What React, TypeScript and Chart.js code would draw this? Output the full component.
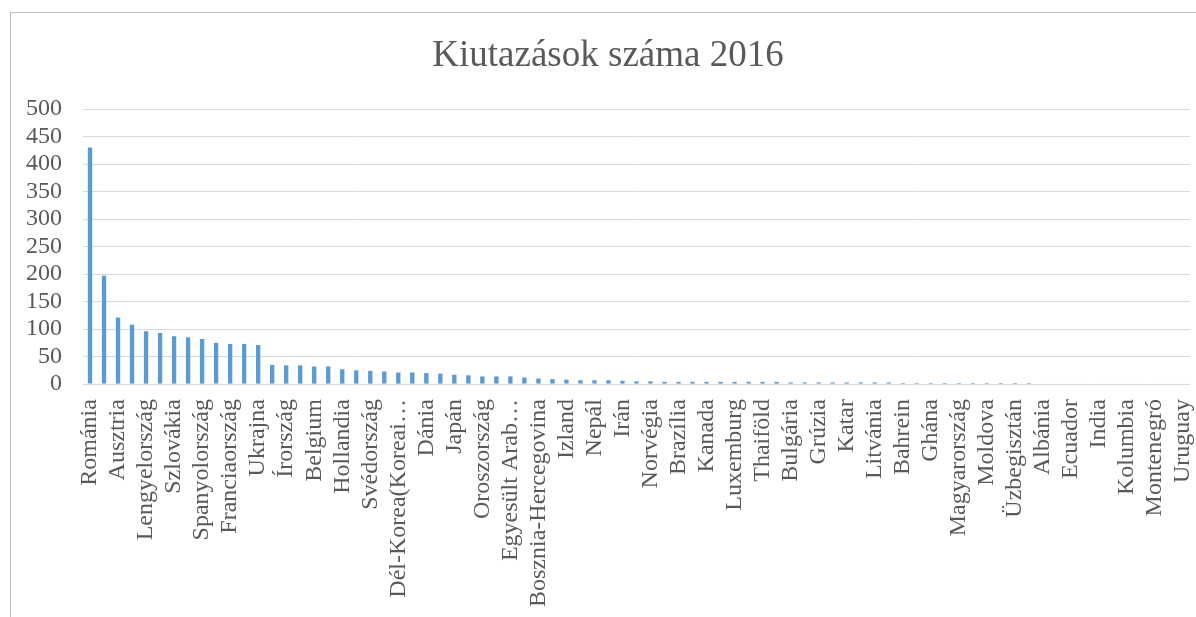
import React, { useEffect, useRef } from "react";
import { Chart, registerables } from "chart.js";

Chart.register(...registerables);

// Categories: only every other label is readable in the reference (others are hidden by the axis)
const categories: string[] = [
  "Románia", "", "Ausztria", "", "Lengyelország", "", "Szlovákia", "", "Spanyolország", "",
  "Franciaország", "", "Ukrajna", "", "Írország", "", "Belgium", "", "Hollandia", "",
  "Svédország", "", "Dél-Korea(Koreai…", "", "Dánia", "", "Japán", "", "Oroszország", "",
  "Egyesült Arab…", "", "Bosznia-Hercegovina", "", "Izland", "", "Nepál", "", "Irán", "",
  "Norvégia", "", "Brazília", "", "Kanada", "", "Luxemburg", "", "Thaiföld", "",
  "Bulgária", "", "Grúzia", "", "Katar", "", "Litvánia", "", "Bahrein", "",
  "Ghána", "", "Magyarország", "", "Moldova", "", "Üzbegisztán", "", "Albánia", "",
  "Ecuador", "", "India", "", "Kolumbia", "", "Montenegró", "", "Uruguay",
];

const values: number[] = [
  430, 197, 121, 108, 96, 93, 87, 85, 82, 75,
  73, 73, 71, 35, 34, 34, 32, 32, 27, 25,
  24, 23, 21, 21, 20, 19, 17, 16, 14, 14,
  14, 12, 10, 9, 8, 7, 7, 7, 6, 5,
  5, 4, 4, 4, 4, 4, 4, 4, 4, 4,
  3, 3, 3, 3, 3, 3, 3, 3, 2, 2,
  2, 2, 2, 2, 2, 2, 2, 2, 1, 1,
  1, 1, 1, 1, 1, 1, 1, 1, 1,
];

const yTicks: number[] = [0, 50, 100, 150, 200, 250, 300, 350, 400, 450, 500];

const TITLE = "Kiutazások száma 2016";
const TEXT_COLOR = "#595959";
const FONT_FAMILY = "'Liberation Serif', 'Times New Roman', serif";

// Title drawn centred over the chart box (frame), as in the reference
const titlePlugin = {
  id: "frameTitle",
  afterDraw(chart: any) {
    const ctx = chart.ctx;
    ctx.save();
    ctx.font = `normal 37px ${FONT_FAMILY}`;
    ctx.fillStyle = TEXT_COLOR;
    ctx.textAlign = "center";
    ctx.textBaseline = "middle";
    ctx.fillText(TITLE, (chart.width + 9) / 2, 43);
    ctx.restore();
  },
};

export default function App() {
  const ref = useRef<HTMLCanvasElement | null>(null);

  useEffect(() => {
    if (!ref.current) return;
    const chart = new Chart(ref.current, {
      type: "bar",
      data: {
        labels: categories,
        datasets: [
          {
            data: values,
            backgroundColor: "#5B9BD5",
            borderWidth: 0,
            barPercentage: 0.31,
            categoryPercentage: 1,
          },
        ],
      },
      plugins: [titlePlugin],
      options: {
        animation: false,
        responsive: false,
        maintainAspectRatio: false,
        layout: { padding: { left: -6, right: 6, top: 96, bottom: 3 } },
        plugins: {
          legend: { display: false },
          tooltip: { enabled: false },
          title: { display: false },
        },
        scales: {
          x: {
            grid: { display: false },
            border: { display: false },
            afterFit: (s: any) => {
              s.paddingLeft = 0;
              s.paddingRight = 0;
            },
            ticks: {
              autoSkip: false,
              minRotation: 90,
              maxRotation: 90,
              padding: 7,
              color: TEXT_COLOR,
              font: { family: FONT_FAMILY, size: 24 },
            },
          },
          y: {
            min: yTicks[0],
            max: yTicks[yTicks.length - 1],
            afterBuildTicks: (axis: any) => {
              axis.ticks = yTicks.map((v) => ({ value: v }));
            },
            grid: { color: "#d9d9d9", lineWidth: 1, drawTicks: false },
            border: { display: false },
            ticks: {
              autoSkip: false,
              padding: 21,
              color: TEXT_COLOR,
              font: { family: FONT_FAMILY, size: 24 },
            },
          },
        },
      },
    });
    return () => chart.destroy();
  }, []);

  return (
    <div style={{ position: "fixed", inset: 0, overflow: "hidden", background: "#fff" }}>
      <div
        style={{
          position: "absolute",
          left: 10,
          top: 12,
          width: 1400,
          height: 800,
          borderLeft: "1px solid #bfbfbf",
          borderTop: "1px solid #bfbfbf",
        }}
      >
        <canvas ref={ref} width={1185} height={604} style={{ display: "block" }} />
      </div>
    </div>
  );
}
